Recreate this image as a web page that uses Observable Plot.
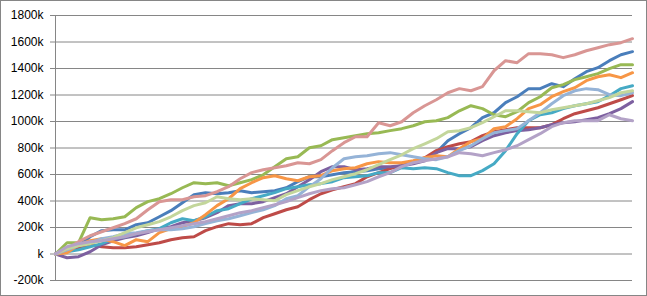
<!DOCTYPE html>
<html>
<head>
<meta charset="utf-8">
<script src="https://cdn.jsdelivr.net/npm/d3@7"></script>
<script src="https://cdn.jsdelivr.net/npm/@observablehq/plot@0.6"></script>
<style>
  html, body { margin: 0; padding: 0; background: #fff; }
  #chart svg { display: block; outline: 1px solid #868686; outline-offset: -1px; }
</style>
</head>
<body>
<div id="chart"></div>
<script>
// Values in thousands, sampled at 51 evenly spaced points
const s1 = [0,25,63,130,176,183,183,221,236,281,327,387,448,463,455,463,478,463,470,478,500,546,583,583,598,614,621,629,644,651,666,689,719,765,855,908,953,1029,1066,1142,1187,1248,1248,1285,1263,1323,1376,1406,1459,1504,1527];
const s2 = [0,25,48,70,55,48,48,55,70,85,108,123,130,176,206,229,221,229,274,304,334,357,410,455,485,508,531,583,614,644,666,697,727,780,810,832,848,893,923,938,953,953,953,976,1021,1059,1081,1104,1134,1164,1195];
const s3 = [0,85,85,274,259,266,281,350,395,417,455,500,538,530,538,515,538,561,598,659,719,734,802,817,863,878,893,908,915,931,946,968,998,1006,1029,1081,1119,1097,1051,1036,1074,1142,1187,1255,1278,1316,1338,1361,1399,1429,1429];
const s4 = [0,-28,-20,17,70,100,123,138,161,191,206,236,251,274,312,365,380,380,395,425,455,508,561,621,659,659,636,644,659,659,666,681,704,765,795,795,810,855,893,915,931,938,953,976,991,998,1013,1029,1059,1097,1150];
const s5 = [0,17,32,55,78,115,130,153,176,191,236,266,251,281,327,342,380,417,440,463,493,508,523,531,546,576,583,591,614,614,651,644,651,644,614,591,591,629,681,780,908,1006,1051,1066,1097,1119,1134,1149,1195,1248,1270];
const s6 = [0,10,70,100,115,93,63,108,93,161,191,206,236,297,365,417,493,538,576,591,568,553,583,591,629,644,651,681,697,689,689,704,727,742,734,795,848,870,946,961,1021,1097,1127,1187,1225,1255,1308,1338,1353,1331,1368];
const s7 = [0,32,63,85,115,130,153,161,176,183,183,191,206,229,251,266,289,312,334,365,417,440,508,568,651,719,734,742,757,765,749,734,719,712,734,780,817,870,915,931,946,1006,1066,1134,1195,1232,1248,1240,1202,1195,1217];
const s8 = [0,40,93,138,168,198,229,266,334,395,410,410,432,440,470,508,568,614,636,651,666,689,681,712,780,840,885,885,991,968,998,1066,1119,1164,1217,1248,1232,1263,1383,1459,1444,1512,1512,1504,1482,1504,1534,1557,1580,1595,1625];
const s9 = [0,40,63,78,100,123,161,198,221,244,281,327,365,387,432,417,410,417,410,402,448,478,508,531,561,583,606,636,674,712,749,795,832,870,923,931,953,991,1036,1081,1081,1074,1066,1089,1104,1119,1134,1157,1180,1217,1232];
const s10 = [0,55,78,93,100,115,130,153,168,183,198,214,229,244,266,289,312,327,350,372,395,425,455,478,493,500,523,546,583,614,659,689,704,719,734,765,757,742,765,787,817,863,908,961,991,1006,1006,1006,1051,1021,1006];

const seriesNames = ["Series1","Series2","Series3","Series4","Series5","Series6","Series7","Series8","Series9","Series10"];
const seriesValues = [s1,s2,s3,s4,s5,s6,s7,s8,s9,s10];
const seriesColors = ["#4A7EBB","#BE4B48","#98B954","#7D60A0","#46AAC5","#F79646","#95B3D7","#D99694","#C3D69B","#B3A2C7"];
const yTicks = [-200,0,200,400,600,800,1000,1200,1400,1600,1800];

const rows = [];
seriesValues.forEach((vals, si) => vals.forEach((v, i) => rows.push({series: seriesNames[si], i, v})));

const chart = Plot.plot({
  width: 647,
  height: 296,
  marginLeft: 55,
  marginRight: 15,
  marginTop: 15,
  marginBottom: 16,
  style: {fontFamily: "'Liberation Sans', Arial, sans-serif", fontSize: "12px", color: "#000", background: "#fff"},
  x: {domain: [0, 50], axis: null},
  y: {domain: [-200, 1800], axis: null},
  color: {domain: seriesNames, range: seriesColors},
  marks: [
    Plot.ruleY(yTicks, {stroke: "#868686", strokeWidth: 1}),
    Plot.ruleX([0], {stroke: "#868686", strokeWidth: 1}),
    Plot.axisY({ticks: yTicks, tickFormat: d => d === 0 ? "k" : d + "k", tickSize: 5, tickPadding: 7, stroke: "#868686", fill: "#000", fontSize: 12, label: null}),
    Plot.line(rows, {x: "i", y: "v", z: "series", stroke: "series", strokeWidth: 3, strokeLinejoin: "round", strokeLinecap: "round"})
  ]
});
document.getElementById("chart").appendChild(chart);
</script>
</body>
</html>
